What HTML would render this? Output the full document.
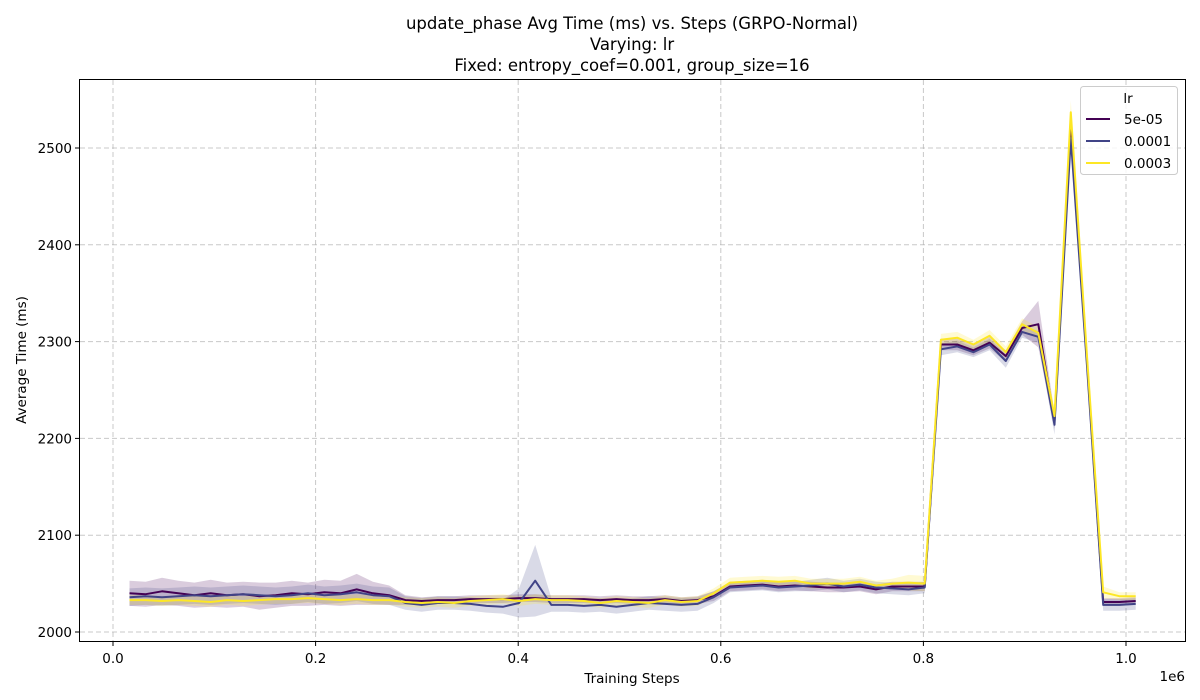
<!DOCTYPE html>
<html><head><meta charset="utf-8"><style>
body{margin:0;background:#fff;}
svg{display:block;font-family:"DejaVu Sans","Liberation Sans",sans-serif;}
</style></head><body>
<svg id="chart" width="1200" height="700" viewBox="0 0 1200 700" xmlns="http://www.w3.org/2000/svg">
<text x="632" y="29" text-anchor="middle" font-size="16.5">update_phase Avg Time (ms) vs. Steps (GRPO-Normal)</text>
<text x="632" y="50" text-anchor="middle" font-size="16.5">Varying: lr</text>
<text x="632" y="71" text-anchor="middle" font-size="16.5">Fixed: entropy_coef=0.001, group_size=16</text>
<g id="grid"></g>
<g id="bands"></g>
<g id="lines"></g>
<rect x="79.5" y="79.5" width="1106" height="562" fill="none" stroke="#000" stroke-width="1"/>
<g id="ticks"></g>
<text x="632" y="683" text-anchor="middle" font-size="13.5">Training Steps</text>
<text x="1185" y="681" text-anchor="end" font-size="13.5">1e6</text>
<text transform="translate(26,360) rotate(-90)" text-anchor="middle" font-size="13.5">Average Time (ms)</text>
<g>
<rect x="1080.5" y="86.5" width="97" height="88" rx="3" fill="#fff" fill-opacity="0.8" stroke="#ccc"/>
<text x="1128" y="103" text-anchor="middle" font-size="13.5">lr</text>
<g><line x1="1086" y1="119" x2="1110" y2="119" stroke="#440154" stroke-width="2"/><text x="1124" y="124" font-size="13.5">5e-05</text></g>
<g><line x1="1086" y1="141" x2="1110" y2="141" stroke="#414487" stroke-width="2"/><text x="1124" y="146" font-size="13.5">0.0001</text></g>
<g><line x1="1086" y1="163" x2="1110" y2="163" stroke="#fde725" stroke-width="2"/><text x="1124" y="168" font-size="13.5">0.0003</text></g>
</g>
</svg>
<script>
const firstStep = 0.0163;
const stepSize = 0.01602;
const seriesNames = ["5e-05","0.0001","0.0003"];
const seriesColors = ["#440154","#414487","#fde725"];
const xTicks = [0,0.2,0.4,0.6,0.8,1.0];
const xTickLabels = ["0.0","0.2","0.4","0.6","0.8","1.0"];
const yTicks = [2000,2100,2200,2300,2400,2500];
const mean5e5 = [2040,2039,2042,2040,2038,2040,2038,2039,2037,2038,2040,2039,2041,2040,2044,2040,2038,
2033,2032,2033,2033,2034,2034,2034,2035,2035,2034,2034,2034,2033,2034,2033,2033,2034,2032,2033,
2037,2047,2048,2049,2047,2048,2047,2046,2046,2047,2044,2047,2047,2047,
2297,2297,2291,2299,2285,2314,2318,2218,2521,2280,2031,2031,2032];
const mean1e4 = [2036,2037,2036,2037,2038,2037,2038,2039,2038,2037,2038,2040,2038,2039,2041,2038,2037,
2030,2028,2030,2030,2029,2027,2026,2030,2053,2028,2028,2027,2028,2026,2028,2030,2029,2028,2029,
2036,2046,2047,2048,2046,2047,2048,2050,2047,2049,2046,2045,2044,2046,
2292,2295,2289,2297,2280,2310,2305,2214,2510,2275,2028,2028,2029];
const mean3e4 = [2033,2033,2032,2033,2032,2031,2033,2032,2033,2034,2034,2035,2034,2033,2034,2033,2033,
2031,2030,2031,2030,2032,2033,2034,2032,2034,2033,2033,2032,2030,2032,2031,2030,2033,2031,2032,
2040,2051,2052,2053,2052,2053,2050,2050,2050,2052,2048,2050,2051,2050,
2302,2304,2297,2306,2289,2318,2309,2223,2537,2285,2041,2037,2037];
const ci5e5 = [13,13,14,13,13,14,13,13,14,13,13,12,13,13,16,12,10,
5,4,4,4,4,4,4,4,4,4,4,4,4,4,4,4,4,4,4,
5,5,5,5,5,5,5,5,5,5,5,5,5,5,
6,6,5,6,6,7,24,8,10,8,4,4,4];
const ci1e4 = [9,9,9,9,9,9,9,9,9,9,9,9,9,9,9,9,9,
7,7,7,7,7,7,7,15,37,7,7,7,7,7,7,7,7,7,7,
6,5,5,5,5,5,6,6,6,6,6,6,6,6,
6,6,5,6,7,6,6,10,10,8,6,6,6];
const ci3e4 = [5,5,5,5,5,5,5,5,5,5,5,5,5,5,5,5,5,
5,5,5,5,5,5,5,5,5,5,5,5,5,5,5,5,5,5,5,
5,5,5,5,5,5,5,5,5,5,5,5,8,8,
6,6,5,6,6,6,6,8,12,8,6,4,4];
const means=[mean5e5,mean1e4,mean3e4], cis=[ci5e5,ci1e4,ci3e4];
const NS="http://www.w3.org/2000/svg";
function xs(v){return 113+v*1013;}
function ys(v){return 632-(v-2000)*0.968;}
function mk(tag,attrs,parent){const e=document.createElementNS(NS,tag);for(const k in attrs)e.setAttribute(k,attrs[k]);parent.appendChild(e);return e;}
const grid=document.getElementById('grid'),ticks=document.getElementById('ticks');
xTicks.forEach((t,i)=>{
 const g=mk('line',{x1:xs(t),x2:xs(t),y1:80,y2:641,stroke:'#b0b0b0','stroke-dasharray':'5,3','stroke-opacity':0.7},grid);
 
 
 mk('line',{x1:xs(t),x2:xs(t),y1:642,y2:646,stroke:'#000'},ticks);
 const tx=mk('text',{x:xs(t),y:663,'text-anchor':'middle','font-size':13.5},ticks);
 tx.textContent=xTickLabels[i];
 
 
});
yTicks.forEach(t=>{
 const g=mk('line',{x1:80,x2:1185,y1:ys(t),y2:ys(t),stroke:'#b0b0b0','stroke-dasharray':'5,3','stroke-opacity':0.7},grid);
 
 
 mk('line',{x1:75,x2:79,y1:ys(t),y2:ys(t),stroke:'#000'},ticks);
 const tx=mk('text',{x:72,y:ys(t)+5,'text-anchor':'end','font-size':13.5},ticks);
 tx.textContent=t;
 
 
});
const bands=document.getElementById('bands'),lines=document.getElementById('lines');
means.forEach((m,s)=>{
 const c=cis[s];
 let up=[],lo=[],pts=[];
 m.forEach((v,i)=>{const x=xs(firstStep+i*stepSize);up.push(x.toFixed(1)+','+ys(v+c[i]).toFixed(1));lo.unshift(x.toFixed(1)+','+ys(v-c[i]).toFixed(1));pts.push(x.toFixed(1)+','+ys(v).toFixed(1));});
 const b=mk('polygon',{points:up.concat(lo).join(' '),fill:seriesColors[s],'fill-opacity':0.2,stroke:'none'},bands);
 
 
 const l=mk('polyline',{points:pts.join(' '),fill:'none',stroke:seriesColors[s],'stroke-width':2,'stroke-linejoin':'round'},lines);
 
 
});
</script>
</body></html>
